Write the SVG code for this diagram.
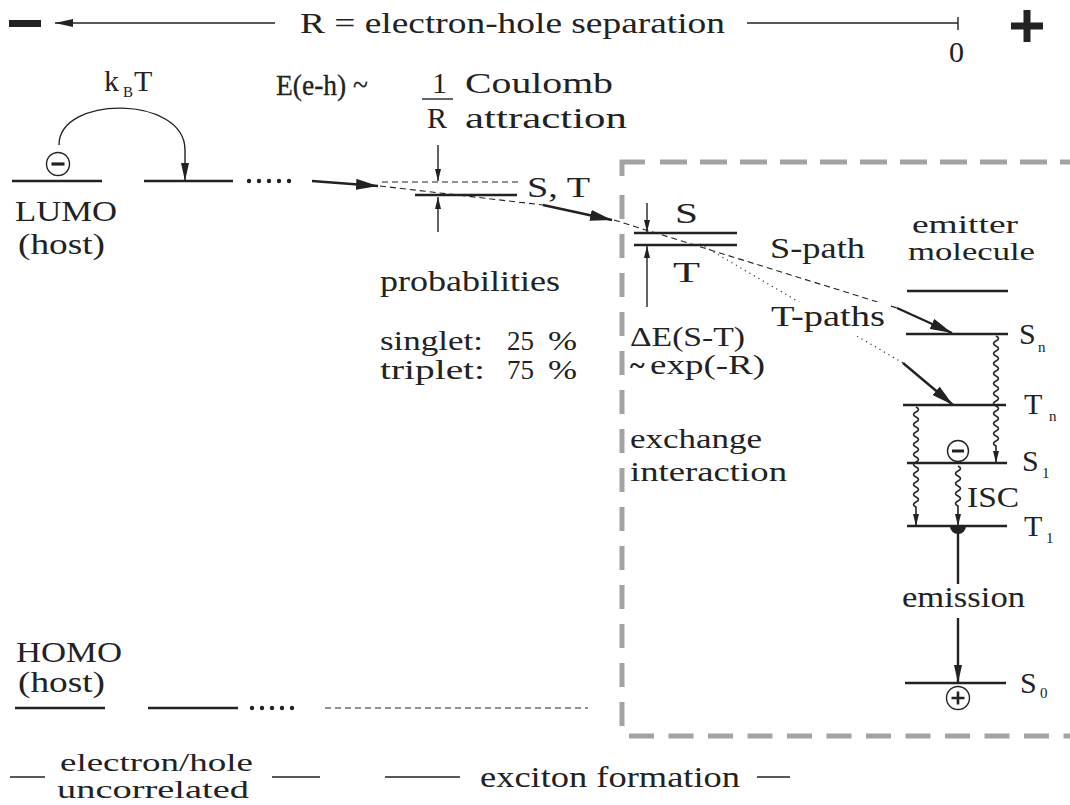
<svg xmlns="http://www.w3.org/2000/svg" width="1070" height="805" viewBox="0 0 1070 805">
<style>
.t{font-family:"Liberation Serif","DejaVu Serif",serif;font-size:30px;fill:#222}
.s28{font-size:28px}
.s26{font-size:26px}
.sub{font-size:15px}
.lvl{stroke:#222;stroke-width:2.6;fill:none}
.ln{stroke:#222;stroke-width:1.4;fill:none}
.ar{stroke:#222;stroke-width:2.4;fill:none}
.dash{stroke:#222;stroke-width:1.1;fill:none;stroke-dasharray:6 4}
.dot{stroke:#222;stroke-width:1.1;fill:none;stroke-dasharray:1.2 4}
.wave{stroke:#222;stroke-width:1.6;fill:none}
.box{stroke:#a3a3a3;stroke-width:5;fill:none}
.bg{fill:#fff}
</style>
<defs>
<marker id="big" markerUnits="userSpaceOnUse" markerWidth="22" markerHeight="11" refX="22" refY="5.5" orient="auto"><path d="M0,0 L22,5.5 L0,11 z" fill="#222"/></marker>
<marker id="med" markerUnits="userSpaceOnUse" markerWidth="18" markerHeight="8" refX="18" refY="4" orient="auto"><path d="M0,0 L18,4 L0,8 z" fill="#222"/></marker>
<marker id="sm" markerUnits="userSpaceOnUse" markerWidth="12" markerHeight="6" refX="12" refY="3" orient="auto"><path d="M0,0 L12,3 L0,6 z" fill="#222"/></marker>
</defs>
<rect width="1070" height="805" fill="#fff"/>

<g id="exciton-box">
<path class="box" d="M622,176 V162 H645"/>
<path class="box" d="M660,162 H1070" stroke-dasharray="27 13"/>
<path class="box" d="M622,195 V728" stroke-dasharray="24 15"/>
<path class="box" d="M629,736 H1070" stroke-dasharray="25 14.5"/>
</g>

<g id="axis">
<rect x="9" y="20" width="32" height="7" fill="#222"/>
<path class="ln" d="M275,23 H55" marker-end="url(#med)"/>
<text class="t" x="300" y="33" textLength="425" lengthAdjust="spacingAndGlyphs">R = electron-hole separation</text>
<path class="ln" d="M747,23 H958 M958,17 V30"/>
<text class="t" x="949" y="62">0</text>
<rect x="1011" y="22.5" width="32" height="7" fill="#222"/>
<rect x="1023.5" y="10" width="7" height="32" fill="#222"/>
</g>

<g id="lumo-host">
<path class="lvl" d="M12,181 H102"/>
<circle cx="58" cy="164" r="11.5" fill="none" stroke="#222" stroke-width="1.4"/>
<path d="M51.5,164 H64.5" stroke="#222" stroke-width="3.2"/>
<text class="t" x="15" y="221" textLength="102" lengthAdjust="spacingAndGlyphs">LUMO</text>
<text class="t" x="18" y="254" textLength="87" lengthAdjust="spacingAndGlyphs">(host)</text>
</g>

<g id="lumo-hop">
<path class="lvl" d="M144,181 H233"/>
<g fill="#222"><circle cx="249" cy="181" r="2.2"/><circle cx="259" cy="181" r="2.2"/><circle cx="269" cy="181" r="2.2"/><circle cx="279" cy="181" r="2.2"/><circle cx="289" cy="181" r="2.2"/></g>
<text class="t" x="104" y="91">k</text>
<text class="t sub" x="123" y="97">B</text>
<text class="t" x="134" y="91">T</text>
</g>

<g id="homo-host">
<text class="t" x="16" y="662" textLength="106" lengthAdjust="spacingAndGlyphs">HOMO</text>
<text class="t" x="18" y="692" textLength="87" lengthAdjust="spacingAndGlyphs">(host)</text>
<path class="lvl" d="M15,708 H105"/>
<path class="lvl" d="M148,708 H238"/>
<g fill="#222"><circle cx="252" cy="708" r="2.2"/><circle cx="262" cy="708" r="2.2"/><circle cx="272" cy="708" r="2.2"/><circle cx="282" cy="708" r="2.2"/><circle cx="292" cy="708" r="2.2"/></g>
<path class="dash" d="M325,708 H588"/>
</g>

<g id="coulomb">
<text class="t" x="276" y="95" textLength="92" lengthAdjust="spacingAndGlyphs" stroke="#222" stroke-width="0.3">E(e-h) ~</text>
<text class="t" x="432" y="93">1</text>
<path d="M422,99 H453" stroke="#222" stroke-width="1.4"/>
<text class="t" x="427" y="128">R</text>
<text class="t" x="465" y="93" textLength="148" lengthAdjust="spacingAndGlyphs">Coulomb</text>
<text class="t" x="465" y="128" textLength="162" lengthAdjust="spacingAndGlyphs">attraction</text>
</g>

<g id="pair-level">
<path class="dash" d="M382,182 H520"/>
<path class="lvl" d="M415,195 H517"/>
<text class="t" x="527" y="197" textLength="63" lengthAdjust="spacingAndGlyphs">S, T</text>
<text class="t" x="380" y="291" textLength="180" lengthAdjust="spacingAndGlyphs">probabilities</text>
<text class="t s28" x="380" y="350" textLength="103" lengthAdjust="spacingAndGlyphs">singlet:</text>
<text class="t s28" x="507" y="350" textLength="27" lengthAdjust="spacingAndGlyphs">25</text>
<text class="t s28" x="548" y="350" textLength="29" lengthAdjust="spacingAndGlyphs">%</text>
<text class="t s28" x="380" y="379" textLength="105" lengthAdjust="spacingAndGlyphs">triplet:</text>
<text class="t s28" x="507" y="379" textLength="27" lengthAdjust="spacingAndGlyphs">75</text>
<text class="t s28" x="548" y="379" textLength="29" lengthAdjust="spacingAndGlyphs">%</text>
</g>

<g id="exchange-level">
<path class="lvl" d="M634,233 H737 M634,245 H737"/>
<text class="t" x="675" y="223" textLength="23" lengthAdjust="spacingAndGlyphs">S</text>
<text class="t" x="673" y="282" textLength="27" lengthAdjust="spacingAndGlyphs">T</text>
<text class="t s28" x="630" y="346" textLength="115" lengthAdjust="spacingAndGlyphs">ΔE(S-T)</text>
<text class="t s28" x="630" y="374" font-weight="bold">~</text>
<text class="t s28" x="650" y="374" textLength="115" lengthAdjust="spacingAndGlyphs">exp(-R)</text>
<text class="t s28" x="630" y="448" textLength="132" lengthAdjust="spacingAndGlyphs">exchange</text>
<text class="t s28" x="630" y="481" textLength="157" lengthAdjust="spacingAndGlyphs">interaction</text>
</g>

<g id="connectors">
<path class="ln" d="M59,145 C59,95 185,95 185,150 L185,181" marker-end="url(#med)"/>
<path class="ar" d="M312,181 L378,186" marker-end="url(#big)"/>
<path class="dash" d="M380,186 L543,205"/>
<path class="ar" d="M543,205 L612,220" marker-end="url(#big)"/>
<path class="dash" d="M614,220 L897,308"/>
<path class="dot" d="M700,244 L903,363"/>
<path class="ar" d="M897,308 L952,333" marker-end="url(#big)"/>
<path class="ar" d="M903,363 L953,405" marker-end="url(#big)"/>
<path class="ln" d="M438,145 V181" marker-end="url(#sm)"/>
<path class="ln" d="M438,232 V197" marker-end="url(#sm)"/>
<path class="ln" d="M647,203 V232" marker-end="url(#sm)"/>
<path class="ln" d="M647,307 V246" marker-end="url(#sm)"/>
<path class="wave" d="M996,336 q5,2.5 0,5 q-5,2.5 0,5 q5,2.5 0,5 q-5,2.5 0,5 q5,2.5 0,5 q-5,2.5 0,5 q5,2.5 0,5 q-5,2.5 0,5 q5,2.5 0,5 q-5,2.5 0,5 q5,2.5 0,5 q-5,2.5 0,5 q5,2.5 0,5 q-5,2.5 0,5 q5,2.5 0,5 q-5,2.5 0,5 q5,2.5 0,5 q-5,2.5 0,5 q5,2.5 0,5 q-5,2.5 0,5 q5,2.5 0,5 q-5,2.5 0,5 V463" marker-end="url(#sm)"/>
<path class="wave" d="M916,407 q5,2.5 0,5 q-5,2.5 0,5 q5,2.5 0,5 q-5,2.5 0,5 q5,2.5 0,5 q-5,2.5 0,5 q5,2.5 0,5 q-5,2.5 0,5 q5,2.5 0,5 q-5,2.5 0,5 q5,2.5 0,5 q-5,2.5 0,5 q5,2.5 0,5 q-5,2.5 0,5 q5,2.5 0,5 q-5,2.5 0,5 q5,2.5 0,5 q-5,2.5 0,5 q5,2.5 0,5 q-5,2.5 0,5 V526" marker-end="url(#sm)"/>
<path class="wave" d="M958,466 q5,2.5 0,5 q-5,2.5 0,5 q5,2.5 0,5 q-5,2.5 0,5 q5,2.5 0,5 q-5,2.5 0,5 q5,2.5 0,5 q-5,2.5 0,5 V526" marker-end="url(#sm)"/>
<path class="ar" d="M958,530 V683" stroke-width="2" marker-end="url(#med)"/>
</g>

<g id="path-labels">
<text class="t" x="770" y="258" textLength="95" lengthAdjust="spacingAndGlyphs">S-path</text>
<rect class="bg" x="768" y="302" width="120" height="34"/>
<text class="t" x="771" y="326" textLength="114" lengthAdjust="spacingAndGlyphs">T-paths</text>
</g>

<g id="emitter">
<text class="t s26" x="912" y="233" textLength="106" lengthAdjust="spacingAndGlyphs">emitter</text>
<text class="t s26" x="908" y="260" textLength="127" lengthAdjust="spacingAndGlyphs">molecule</text>
<path class="lvl" d="M907,291 H1008"/>
<path class="lvl" d="M906,334 H1008"/>
<path class="lvl" d="M903,405 H1006"/>
<path class="lvl" d="M907,463 H1007"/>
<path class="lvl" d="M907,526 H1007"/>
<path class="lvl" d="M905,683 H1006"/>
<text class="t" x="1019" y="344">S</text><text class="t sub" x="1038" y="352">n</text>
<text class="t" x="1024" y="414">T</text><text class="t sub" x="1049" y="421">n</text>
<text class="t" x="1022" y="471">S</text><text class="t sub" x="1042" y="478">1</text>
<text class="t" x="1024" y="536">T</text><text class="t sub" x="1046" y="543">1</text>
<text class="t" x="1020" y="693">S</text><text class="t sub" x="1040" y="698">0</text>
<circle cx="958" cy="451" r="10.5" fill="#fff" stroke="#222" stroke-width="1.4"/>
<path d="M952,451 H964" stroke="#222" stroke-width="3"/>
<text class="t" x="967" y="507" textLength="52" lengthAdjust="spacingAndGlyphs">ISC</text>
<path d="M950,526 A8,8 0 0 0 966,526 Z" fill="#222"/>
<rect class="bg" x="900" y="584" width="128" height="34"/>
<text class="t" x="902" y="607" textLength="123" lengthAdjust="spacingAndGlyphs">emission</text>
<circle cx="958" cy="698" r="11.5" fill="#fff" stroke="#222" stroke-width="1.4"/>
<path d="M951.5,698 H964.5 M958,691.5 V704.5" stroke="#222" stroke-width="2.6"/>
</g>

<g id="phase-labels">
<path class="ln" d="M10,777 H45 M272,777 H320 M385,777 H460 M757,777 H790"/>
<text class="t s26" x="60" y="771" textLength="193" lengthAdjust="spacingAndGlyphs">electron/hole</text>
<text class="t s26" x="57" y="798" textLength="192" lengthAdjust="spacingAndGlyphs">uncorrelated</text>
<text class="t" x="480" y="787" textLength="260" lengthAdjust="spacingAndGlyphs">exciton formation</text>
</g>
</svg>
